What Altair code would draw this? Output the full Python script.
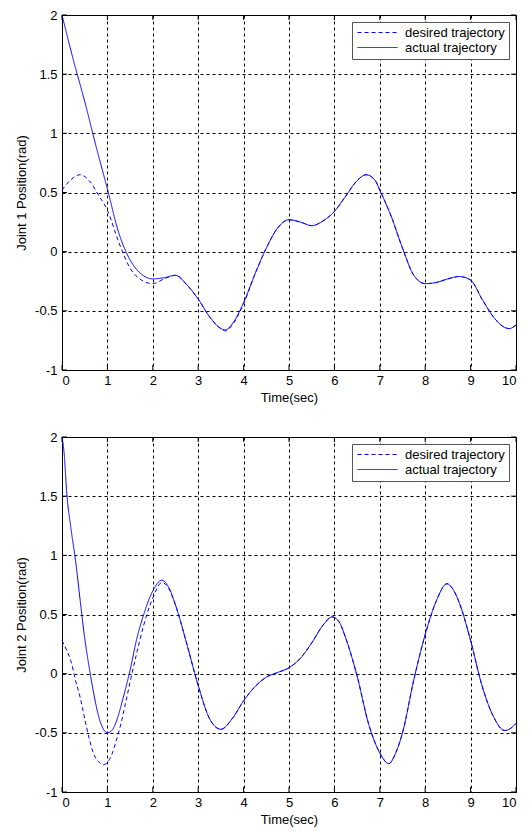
import altair as alt
import pandas as pd

series_names = ["desired trajectory", "actual trajectory"]
x_ticks = [0, 1, 2, 3, 4, 5, 6, 7, 8, 9, 10]
y_ticks = [-1, -0.5, 0, 0.5, 1, 1.5, 2]

# Joint 1
t1_act = [0, 0.25, 0.5, 0.75, 1.0, 1.25, 1.5, 1.75, 2.0, 2.25, 2.5, 2.75, 3.0, 3.25, 3.5, 3.6,
          3.75, 4.0, 4.25, 4.5, 4.75, 5.0, 5.25, 5.5, 5.75, 6.0, 6.25, 6.5, 6.7, 6.9, 7.0,
          7.25, 7.5, 7.75, 8.0, 8.25, 8.5, 8.75, 9.0, 9.25, 9.5, 9.75, 9.85, 10.0]
v1_act = [2.0, 1.62, 1.27, 0.89, 0.53, 0.16, -0.07, -0.19, -0.23, -0.22, -0.2, -0.28, -0.40, -0.55, -0.65, -0.66,
          -0.61, -0.43, -0.19, 0.03, 0.2, 0.27, 0.25, 0.22, 0.26, 0.34, 0.47, 0.6, 0.65, 0.6, 0.52,
          0.3, 0.03, -0.2, -0.27, -0.26, -0.23, -0.21, -0.24, -0.4, -0.55, -0.64, -0.65, -0.62]
t1_des = [0, 0.2, 0.4, 0.6, 0.8, 1.0, 1.25, 1.5, 1.75, 2.0, 2.25, 2.5, 2.75, 3.0, 3.25, 3.5, 3.6,
          3.75, 4.0, 4.25, 4.5, 4.75, 5.0, 5.25, 5.5, 5.75, 6.0, 6.25, 6.5, 6.7, 6.9, 7.0,
          7.25, 7.5, 7.75, 8.0, 8.25, 8.5, 8.75, 9.0, 9.25, 9.5, 9.75, 9.85, 10.0]
v1_des = [0.52, 0.61, 0.65, 0.6, 0.48, 0.35, 0.08, -0.14, -0.24, -0.27, -0.23, -0.2, -0.28, -0.40, -0.55, -0.65, -0.67,
          -0.62, -0.44, -0.19, 0.03, 0.2, 0.27, 0.25, 0.22, 0.26, 0.34, 0.47, 0.6, 0.65, 0.6, 0.52,
          0.3, 0.03, -0.2, -0.27, -0.26, -0.23, -0.21, -0.24, -0.4, -0.55, -0.64, -0.65, -0.62]

# Joint 2
t2_act = [0, 0.05, 0.1, 0.2, 0.3, 0.4, 0.5, 0.6, 0.7, 0.8, 0.9, 1.0, 1.1, 1.2, 1.35, 1.5, 1.65,
          1.8, 2.0, 2.2, 2.35, 2.5, 2.75, 3.0, 3.25, 3.5, 3.75, 4.0, 4.25, 4.5, 4.75, 5.0, 5.25,
          5.5, 5.75, 5.95, 6.1, 6.25, 6.5, 6.75, 7.0, 7.2, 7.35, 7.5, 7.75, 8.0, 8.25, 8.48, 8.6,
          8.75, 9.0, 9.25, 9.5, 9.75, 9.85, 10.0]
v2_act = [2.0, 1.85, 1.55, 1.22, 0.95, 0.62, 0.3, 0.05, -0.17, -0.35, -0.46, -0.5, -0.48, -0.4, -0.2, 0.03, 0.3,
          0.5, 0.7, 0.79, 0.73, 0.58, 0.25, -0.1, -0.38, -0.47, -0.38, -0.23, -0.11, -0.03, 0.01, 0.05, 0.13,
          0.26, 0.41, 0.48, 0.44, 0.3, -0.02, -0.42, -0.67, -0.76, -0.67, -0.5, -0.05, 0.33, 0.62, 0.76, 0.72,
          0.6, 0.28, -0.1, -0.36, -0.48, -0.47, -0.42]
t2_des = [0, 0.1, 0.2, 0.3, 0.4, 0.5, 0.6, 0.7, 0.8, 0.9, 1.0, 1.1, 1.2, 1.3, 1.4, 1.5, 1.65,
          1.8, 2.0, 2.2, 2.35, 2.5, 2.75, 3.0, 3.25, 3.5, 3.75, 4.0, 4.25, 4.5, 4.75, 5.0, 5.25,
          5.5, 5.75, 5.95, 6.1, 6.25, 6.5, 6.75, 7.0, 7.2, 7.35, 7.5, 7.75, 8.0, 8.25, 8.48, 8.6,
          8.75, 9.0, 9.25, 9.5, 9.75, 9.85, 10.0]
v2_des = [0.28, 0.2, 0.1, -0.06, -0.2, -0.38, -0.55, -0.68, -0.74, -0.77, -0.75, -0.68, -0.56, -0.42, -0.25, -0.07, 0.18,
          0.41, 0.64, 0.77, 0.72, 0.58, 0.25, -0.1, -0.38, -0.47, -0.38, -0.23, -0.11, -0.03, 0.01, 0.05, 0.13,
          0.26, 0.41, 0.48, 0.44, 0.3, -0.02, -0.42, -0.67, -0.76, -0.67, -0.5, -0.05, 0.33, 0.62, 0.76, 0.72,
          0.6, 0.28, -0.1, -0.36, -0.48, -0.47, -0.42]

W, H = 454, 355
FONT = "Liberation Sans"
TL = 5
BLUE = "#0000ff"


def panel(t_des, v_des, t_act, v_act, ytitle):
    df = pd.concat([
        pd.DataFrame({"t": t_des, "v": v_des, "s": series_names[0]}),
        pd.DataFrame({"t": t_act, "v": v_act, "s": series_names[1]}),
    ])
    xs = alt.Scale(domain=[0, 10], nice=False, zero=False)
    ys = alt.Scale(domain=[-1, 2], nice=False, zero=False)
    lines = alt.Chart(df).mark_line(strokeWidth=1, interpolate="monotone", color=BLUE).encode(
        x=alt.X("t:Q", scale=xs, axis=alt.Axis(values=x_ticks, title="Time(sec)", format="d",
                                               labelPadding=4, titlePadding=4)),
        y=alt.Y("v:Q", scale=ys, axis=alt.Axis(values=y_ticks, title=ytitle,
                                               labelExpr="'' + datum.value",
                                               labelPadding=5, titlePadding=6)),
        strokeDash=alt.StrokeDash("s:N", scale=alt.Scale(domain=series_names, range=[[4, 3], [1, 0]]),
                                  legend=alt.Legend(title=None, symbolStrokeColor=BLUE)),
    )
    xdf = pd.DataFrame({"xt": x_ticks})
    ydf = pd.DataFrame({"yt": y_ticks})
    xb = alt.Chart(xdf).mark_rule(color="black", strokeWidth=1).encode(
        x=alt.X("xt:Q", scale=xs), y=alt.value(H), y2=alt.value(H - TL))
    xt = alt.Chart(xdf).mark_rule(color="black", strokeWidth=1).encode(
        x=alt.X("xt:Q", scale=xs), y=alt.value(0), y2=alt.value(TL))
    yl = alt.Chart(ydf).mark_rule(color="black", strokeWidth=1).encode(
        y=alt.Y("yt:Q", scale=ys), x=alt.value(0), x2=alt.value(TL))
    yr = alt.Chart(ydf).mark_rule(color="black", strokeWidth=1).encode(
        y=alt.Y("yt:Q", scale=ys), x=alt.value(W), x2=alt.value(W - TL))
    return alt.layer(lines, xb, xt, yl, yr).properties(width=W, height=H)


top = panel(t1_des, v1_des, t1_act, v1_act, "Joint 1 Position(rad)")
bottom = panel(t2_des, v2_des, t2_act, v2_act, "Joint 2 Position(rad)")

chart = alt.vconcat(top, bottom, spacing=25).resolve_scale(
    strokeDash="independent"
).resolve_legend(
    strokeDash="independent"
).properties(
    padding={"left": 7, "top": 0, "right": 0, "bottom": 0},
    background="white",
).configure_view(
    stroke="black", strokeWidth=1
).configure_axis(
    grid=True, gridColor="black", gridDash=[3, 3], gridOpacity=1, gridWidth=1,
    ticks=False, domain=False,
    labelFont=FONT, labelFontSize=13, labelColor="black",
    titleFont=FONT, titleFontSize=13, titleFontWeight="normal", titleColor="black",
).configure_legend(
    orient="top-right", offset=7, fillColor="white", strokeColor="#555555",
    padding=4, labelFont=FONT, labelFontSize=13, labelColor="black",
    symbolType="M-1,0L7,0", symbolSize=100, symbolStrokeWidth=1, symbolStrokeColor=BLUE,
    labelOffset=36, rowPadding=1,
)

chart.save("out.html", embed_options={"renderer": "svg", "actions": False})
